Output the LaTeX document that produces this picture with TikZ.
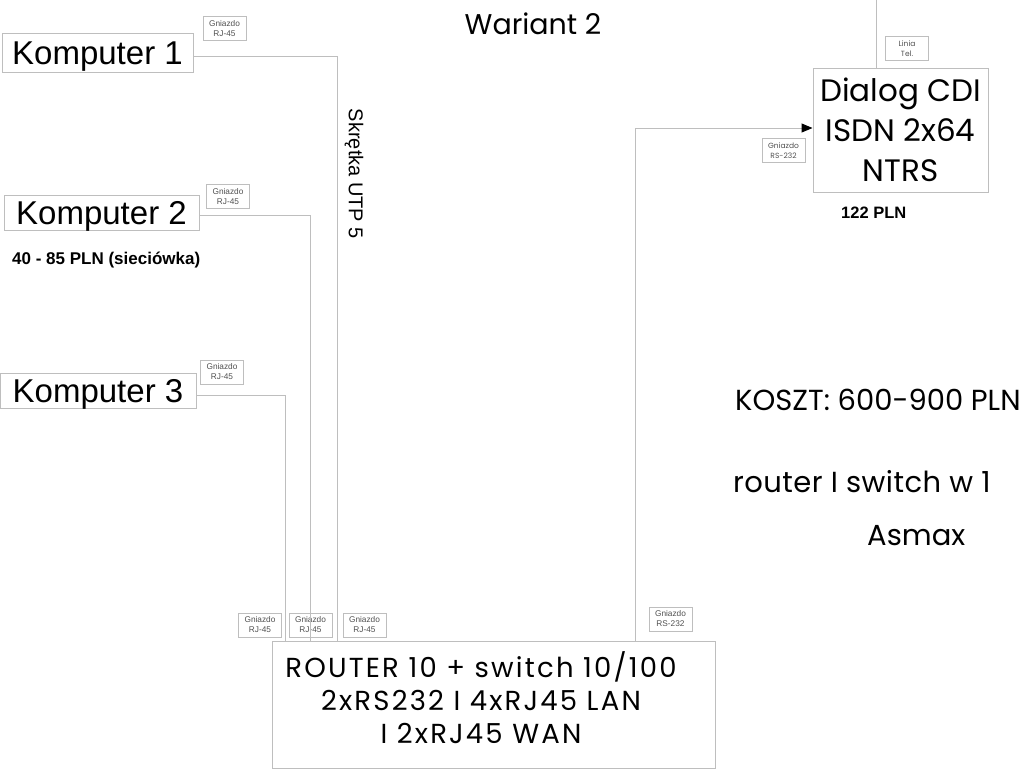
\documentclass[tikz,border=0pt]{standalone}
\usepackage{fontspec}
\setmainfont{Liberation Sans}
\newfontfamily\cg{Poppins}
\newfontfamily\cgw{Poppins}[LetterSpace=8]
\newfontfamily\cgn{Poppins}[LetterSpace=1.5]
\usetikzlibrary{arrows.meta}
\definecolor{linegray}{RGB}{190,190,190}
\definecolor{smalltext}{RGB}{80,80,80}
\begin{document}
\begin{tikzpicture}[x=1pt,y=-1pt,
  wire/.style={draw=linegray, line width=1pt},
  pcbox/.style={draw=linegray, line width=1pt, inner sep=0pt, text height=23.6pt, text depth=0pt,
    font=\fontsize{33}{33}\selectfont},
  bigbox/.style={draw=linegray, line width=1pt, inner sep=0pt},
  sock/.style={draw=linegray, line width=0.8pt, inner sep=0pt, align=center,
    minimum width=43pt, minimum height=24pt, text=smalltext, font=\fontsize{8.3}{10}\selectfont},
  cgsock/.style={sock, font=\cg\fontsize{7.5}{10}\selectfont},
  cgtext/.style={inner sep=0pt, font=\cg\fontsize{#1}{#1}\selectfont},
  boldnote/.style={inner sep=0pt, anchor=base west, font=\bfseries\fontsize{#1}{#1}\selectfont}
]
\useasboundingbox (0,0) rectangle (1024,769);

% computers
\node[pcbox, minimum width=191pt, minimum height=39pt] (k1) at (97.5,52.5) {Komputer 1};
\node[pcbox, minimum width=195pt, minimum height=35pt] (k2) at (101.5,212.5) {Komputer 2};
\node[pcbox, minimum width=196pt, minimum height=35pt] (k3) at (98,390.5) {Komputer 3};

% sockets
\node[sock] (g1) at (224.5,28.5) {Gniazdo\\RJ-45};
\node[sock] (g2) at (228,196.5) {Gniazdo\\RJ-45};
\node[sock] (g3) at (222,372) {Gniazdo\\RJ-45};
\node[sock] (g4) at (260,625) {Gniazdo\\RJ-45};
\node[sock] (g5) at (310.5,625) {Gniazdo\\RJ-45};
\node[sock] (g6) at (364.5,625) {Gniazdo\\RJ-45};
\node[sock] (g7) at (670.5,619) {Gniazdo\\RS-232};
\node[cgsock] (g8) at (783.5,150.5) {Gniazdo\\RS-232};
\node[cgsock] (g9) at (907,48.5) {Linia\\Tel.};

% router
\node[bigbox, minimum width=443pt, minimum height=127pt] (router) at (493.5,704.5) {};
\node[inner sep=0pt, align=center, font=\cgw\fontsize{27.5}{33}\selectfont] (rtext) at (481,698)
  {ROUTER 10 + switch 10/100\\2xRS232 I 4xRJ45 LAN\\I 2xRJ45 WAN};

% dialog
\node[bigbox, minimum width=175pt, minimum height=124pt, align=center,
  font=\cg\fontsize{31}{40}\selectfont] (dialog) at (900.5,130)
  {Dialog CDI\\ISDN 2x64\\NTRS};

% connection points
\path (router.north west) ++(66,0) coordinate (r1);
\path (router.north west) ++(39,0) coordinate (r2);
\path (router.north west) ++(14,0) coordinate (r3);
\path (router.north west) ++(364,0) coordinate (r4);
\coordinate (tel) at (876,0);

% wires
\draw[wire] ([yshift=-3.5pt]k1.east) -| (r1);
\draw[wire] ([yshift=-2.5pt]k2.east) -| (r2);
\draw[wire] ([yshift=-4.5pt]k3.east) -| (r3);
\draw[wire, -{Triangle[color=black, length=11pt, width=9pt]}] (r4) |- ([yshift=2pt]dialog.west);
\draw[wire] (tel) -- (tel |- dialog.north);

% texts
\node[cgtext=28.5] (title) at (533,24) {Wariant 2};
\node[inner sep=0pt, rotate=-90, font=\fontsize{20}{20}\selectfont] (utp) at (354,174) {Skrętka UTP 5};
\node[boldnote=17] (price1) at (12,264) {40 - 85 PLN (sieciówka)};
\node[boldnote=16.5] (price2) at (841,218) {122 PLN};
\node[cgtext=29, anchor=base west] (cost) at (735,410) {KOSZT: 600-900 PLN};
\node[inner sep=0pt, anchor=base west, font=\cgn\fontsize{29}{29}\selectfont] (note1) at (733,492) {router I switch w 1};
\node[cgtext=29, anchor=base west] (note2) at (867,545) {Asmax};
\end{tikzpicture}
\end{document}
